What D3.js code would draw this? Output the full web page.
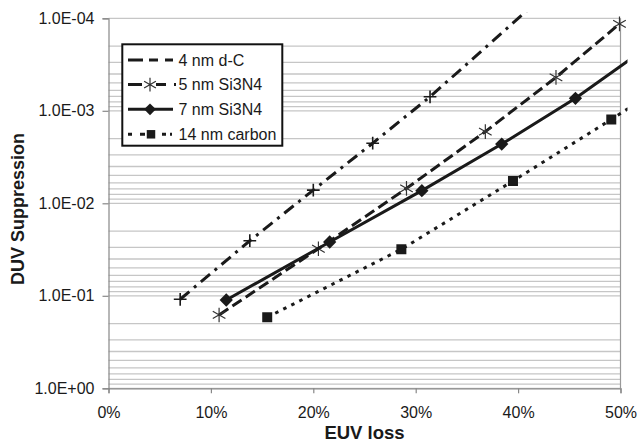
<!DOCTYPE html>
<html>
<head>
<meta charset="utf-8">
<script src="https://cdn.jsdelivr.net/npm/d3@7"></script>
<style>
  body { margin: 0; background: #fff; }
  text { font-family: "Liberation Sans", Arial, sans-serif; fill: #1a1a1a; }
</style>
</head>
<body>
<div id="chart"></div>
<script>
// DUV suppression vs EUV loss (log y axis, reversed)

var seriesNames = ["4 nm d-C", "5 nm Si3N4", "7 nm Si3N4", "14 nm carbon"];

// EUV loss (fraction) and DUV suppression
var lossDC4   = [0.070, 0.138, 0.200, 0.258, 0.314, 0.440];
var suppDC4   = [0.109, 0.0254, 0.0072, 0.00224, 0.000705, 0.0000406];

var lossSiN5  = [0.108, 0.205, 0.291, 0.368, 0.437, 0.499];
var suppSiN5  = [0.161, 0.031, 0.0069, 0.00168, 0.000435, 0.000115];

var lossSiN7  = [0.115, 0.216, 0.306, 0.384, 0.456, 0.520];
var suppSiN7  = [0.111, 0.0262, 0.0073, 0.00229, 0.000733, 0.000229];

var lossC14   = [0.155, 0.286, 0.395, 0.491, 0.520];
var suppC14   = [0.171, 0.0314, 0.00574, 0.00124, 0.00077];

var xTicks = [0, 0.1, 0.2, 0.3, 0.4, 0.5];
var yTicks = [1, 1e-1, 1e-2, 1e-3, 1e-4];
var yTickLabels = ["1.0E+00", "1.0E-01", "1.0E-02", "1.0E-03", "1.0E-04"];

var W = 637, H = 444;
var margin = {top: 18.3, left: 108.5};
var width = 512, height = 370;

var svg = d3.select("#chart").append("svg")
    .attr("width", W)
    .attr("height", H);

var x = d3.scaleLinear().domain([0, 0.5]).range([0, width]);
var y = d3.scaleLog().domain([1, 1e-4]).range([height, 0]);

var g = svg.append("g")
    .attr("transform", "translate(" + margin.left + "," + margin.top + ")");

// minor + major gridlines at 1..9 of each decade
var gridVals = [];
for (var e = -4; e < 0; e++) {
    for (var m = 1; m < 10; m++) gridVals.push(m * Math.pow(10, e));
}
gridVals.push(1);

g.append("g")
    .selectAll("line")
    .data(gridVals)
    .enter().append("line")
    .attr("x1", 0).attr("x2", width)
    .attr("y1", function(d) { return y(d); })
    .attr("y2", function(d) { return y(d); })
    .attr("stroke", "#c6c6c6")
    .attr("stroke-width", 1.3);

// right border of plot area
g.append("line")
    .attr("x1", width).attr("x2", width)
    .attr("y1", 0).attr("y2", height)
    .attr("stroke", "#999").attr("stroke-width", 1.2);

// axes
var xAxis = d3.axisBottom(x)
    .tickValues(xTicks)
    .tickFormat(d3.format(".0%"))
    .tickSize(5)
    .tickPadding(13);

var yAxis = d3.axisLeft(y)
    .tickValues(yTicks)
    .tickFormat(function(d, i) { return yTickLabels[i]; })
    .tickSize(6)
    .tickPadding(8);

var gx = g.append("g")
    .attr("transform", "translate(0," + height + ")")
    .call(xAxis);
var gy = g.append("g").call(yAxis);

[gx, gy].forEach(function(a) {
    a.select(".domain").attr("stroke", "#888").attr("stroke-width", 1.2);
    a.selectAll(".tick line").attr("stroke", "#888").attr("stroke-width", 1.2);
    a.selectAll(".tick text")
        .style("font-family", "'Liberation Sans', Arial, sans-serif")
        .style("font-size", "16px")
        .attr("fill", "#1a1a1a");
});

// axis titles
svg.append("text")
    .attr("x", 364.5).attr("y", 439)
    .attr("text-anchor", "middle")
    .style("font-size", "18.5px").style("font-weight", "bold")
    .text("EUV loss");

svg.append("text")
    .attr("transform", "translate(24,209) rotate(-90)")
    .attr("text-anchor", "middle")
    .style("font-size", "18px").style("font-weight", "bold")
    .text("DUV Suppression");

// clip a little beyond the plot area, like the original
svg.append("clipPath").attr("id", "plotclip")
    .append("rect")
    .attr("x", 0).attr("y", -6)
    .attr("width", width + 7).attr("height", height + 6);

var series = [
    {name: seriesNames[0], loss: lossDC4, supp: suppDC4, dash: "12,6,3,6", marker: "plus"},
    {name: seriesNames[1], loss: lossSiN5, supp: suppSiN5, dash: "11,5", marker: "star"},
    {name: seriesNames[2], loss: lossSiN7, supp: suppSiN7, dash: null, marker: "diamond"},
    {name: seriesNames[3], loss: lossC14, supp: suppC14, dash: "3.5,5.5", marker: "square"}
];

var line = d3.line()
    .x(function(d) { return x(d[0]); })
    .y(function(d) { return y(d[1]); });

var plot = g.append("g").attr("clip-path", "url(#plotclip)");

series.forEach(function(s) {
    var pts = s.loss.map(function(v, i) { return [v, s.supp[i]]; });

    plot.append("path")
        .datum(pts)
        .attr("d", line)
        .attr("fill", "none")
        .attr("stroke", "#1a1a1a")
        .attr("stroke-width", 3)
        .attr("stroke-dasharray", s.dash);

    var mk = plot.append("g").selectAll("path")
        .data(pts)
        .enter().append("path")
        .attr("transform", function(d) {
            var t = "translate(" + x(d[0]) + "," + y(d[1]) + ")";
            return s.marker === "diamond" ? t + " rotate(45)" : t;
        });

    if (s.marker === "diamond") {
        mk.attr("d", d3.symbol().type(d3.symbolSquare).size(88)())
          .attr("fill", "#1a1a1a");
    } else if (s.marker === "square") {
        mk.attr("d", d3.symbol().type(d3.symbolSquare).size(100)())
          .attr("fill", "#1a1a1a");
    } else if (s.marker === "star") {
        mk.attr("d", d3.symbol().type(d3.symbolAsterisk).size(150)())
          .attr("fill", "none").attr("stroke", "#333").attr("stroke-width", 1.2);
    } else {
        mk.attr("d", d3.symbol().type(d3.symbolPlus).size(55)())
          .attr("fill", "none").attr("stroke", "#1a1a1a").attr("stroke-width", 1.6);
    }
});

// legend
var legend = svg.append("g");
legend.append("rect")
    .attr("x", 122.3).attr("y", 44.3)
    .attr("width", 160).attr("height", 101.4)
    .attr("fill", "#fff")
    .attr("stroke", "#111")
    .attr("stroke-width", 2);

var legRows = [60, 84.6, 109.3, 134.3];
var legDash = ["15,6,9,7,8", "14,14,10,8,2", null, "4,8,5,17,4"];
var legEnd  = [173, 176, 173, 172];

series.forEach(function(s, i) {
    var ly = legRows[i];
    legend.append("line")
        .attr("x1", 128).attr("x2", legEnd[i])
        .attr("y1", ly).attr("y2", ly)
        .attr("stroke", "#1a1a1a").attr("stroke-width", 3)
        .attr("stroke-dasharray", legDash[i]);

    var t = "translate(150," + ly + ")";
    if (s.marker === "diamond") {
        legend.append("path").attr("transform", t + " rotate(45)")
            .attr("d", d3.symbol().type(d3.symbolSquare).size(70)())
            .attr("fill", "#1a1a1a");
    } else if (s.marker === "square") {
        legend.append("path").attr("transform", "translate(151," + ly + ")")
            .attr("d", d3.symbol().type(d3.symbolSquare).size(72)())
            .attr("fill", "#1a1a1a");
    } else if (s.marker === "star") {
        legend.append("path").attr("transform", t)
            .attr("d", d3.symbol().type(d3.symbolAsterisk).size(130)())
            .attr("fill", "none").attr("stroke", "#333").attr("stroke-width", 1.2);
    }

    legend.append("text")
        .attr("x", 178.5).attr("y", ly)
        .attr("dy", "0.36em")
        .style("font-size", "16px")
        .text(s.name);
});
</script>
</body>
</html>
